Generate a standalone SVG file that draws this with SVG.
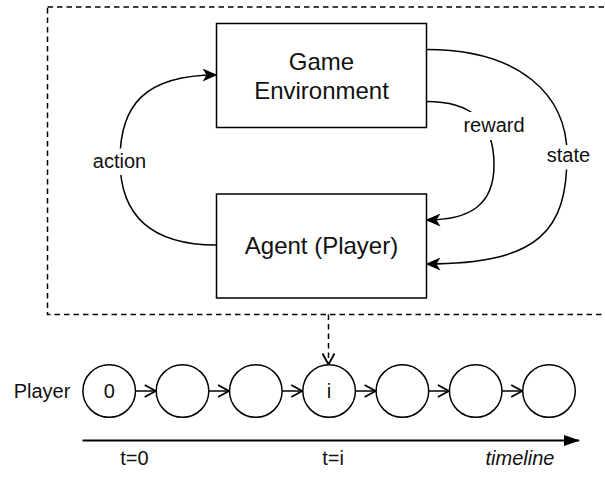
<svg xmlns="http://www.w3.org/2000/svg" width="605" height="478" viewBox="0 0 605 478">
<style>
.box{fill:#fff;stroke:#000;stroke-width:1.5}
.circ{fill:#fff;stroke:#000;stroke-width:1.5}
.edge{fill:none;stroke:#000;stroke-width:1.5}
.dash{fill:none;stroke:#000;stroke-width:1.5;stroke-dasharray:5.5 4}
.big{font-family:"Liberation Sans",Arial,sans-serif;font-size:24px;fill:#111;text-anchor:middle}
.lbl{font-family:"Liberation Sans",Arial,sans-serif;font-size:20px;fill:#111;text-anchor:middle}
.bg{fill:#fff;stroke:none}
</style>
<defs>
<marker id="arr" viewBox="0 0 15 13" refX="14" refY="6.5" markerWidth="15" markerHeight="13" markerUnits="userSpaceOnUse" orient="auto"><path d="M0,0 L15,6.5 L0,13 L4,6.5 Z" fill="#000"/></marker>
<marker id="open" viewBox="-1 -1 14 15" refX="11" refY="6.5" markerWidth="14" markerHeight="15" markerUnits="userSpaceOnUse" orient="auto"><path d="M0,0.5 L11,6.5 L0,12.5" fill="none" stroke="#000" stroke-width="1.8" stroke-dasharray="none"/></marker>
<marker id="tri" viewBox="0 0 16 11" refX="15" refY="5.5" markerWidth="16" markerHeight="11" markerUnits="userSpaceOnUse" orient="auto"><path d="M0,0 L16,5.5 L0,11 Z" fill="#000"/></marker>
</defs>
<rect width="605" height="478" fill="#fff"/>
<g id="frame"><rect class="dash" x="47.5" y="7" width="565" height="307.5"/></g>
<g id="connectors">
<path class="edge" d="M216.5,245 C150,245 120,215 120,160 C120,105 145,75 216.5,75" marker-end="url(#arr)"/>
<path class="edge" d="M426.5,101.5 C470,101.5 494,120 494,165 C494,205 470,220 426.5,220" marker-end="url(#arr)"/>
<path class="edge" d="M426.5,49.5 C520,49.5 567,95 567,155 C567,230 540,264 426.5,264" marker-end="url(#arr)"/>
<path class="dash" d="M328.5,314.5 L328.5,364.5" marker-end="url(#open)"/>
<path class="edge" d="M135.5,391 L155.7,391" marker-end="url(#open)"/>
<path class="edge" d="M208.8,391 L229,391" marker-end="url(#open)"/>
<path class="edge" d="M282.1,391 L302.3,391" marker-end="url(#open)"/>
<path class="edge" d="M355.4,391 L375.6,391" marker-end="url(#open)"/>
<path class="edge" d="M428.7,391 L448.9,391" marker-end="url(#open)"/>
<path class="edge" d="M502,391 L522.2,391" marker-end="url(#open)"/>
<path class="edge" style="stroke-width:2" d="M82.5,440.5 L579,440.5" marker-end="url(#tri)"/>
<g id="edge-labels">
<rect class="bg" x="91" y="148.5" width="57" height="26.5"/>
<text class="lbl" x="119.5" y="167.5">action</text>
<rect class="bg" x="461" y="112" width="66" height="28"/>
<text class="lbl" x="494" y="131.7">reward</text>
<rect class="bg" x="544" y="145" width="49" height="24.5"/>
<text class="lbl" x="568.5" y="161.7">state</text>
</g>
</g>
<g id="game-environment"><rect class="box" x="216.5" y="23.5" width="210" height="104"/><text class="big" x="321.5" y="69.5">Game</text><text class="big" x="321.5" y="99">Environment</text></g>
<g id="agent"><rect class="box" x="216.5" y="194" width="210" height="104"/><text class="big" x="321.5" y="254">Agent (Player)</text></g>
<g id="player-label"><text class="lbl" x="42" y="398">Player</text></g>
<g id="s0"><circle class="circ" cx="109.2" cy="391" r="26.3"/><text class="lbl" x="109.2" y="398">0</text></g>
<g id="s1"><circle class="circ" cx="182.5" cy="391" r="26.3"/></g>
<g id="s2"><circle class="circ" cx="255.8" cy="391" r="26.3"/></g>
<g id="si"><circle class="circ" cx="329.1" cy="391" r="26.3"/><text class="lbl" x="329.1" y="398">i</text></g>
<g id="s4"><circle class="circ" cx="402.4" cy="391" r="26.3"/></g>
<g id="s5"><circle class="circ" cx="475.7" cy="391" r="26.3"/></g>
<g id="s6"><circle class="circ" cx="549" cy="391" r="26.3"/></g>
<g id="timeline-labels">
<text class="lbl" x="134.5" y="465">t=0</text>
<text class="lbl" x="333" y="465">t=i</text>
<text class="lbl" x="520" y="465" font-style="italic">timeline</text>
</g>
</svg>
